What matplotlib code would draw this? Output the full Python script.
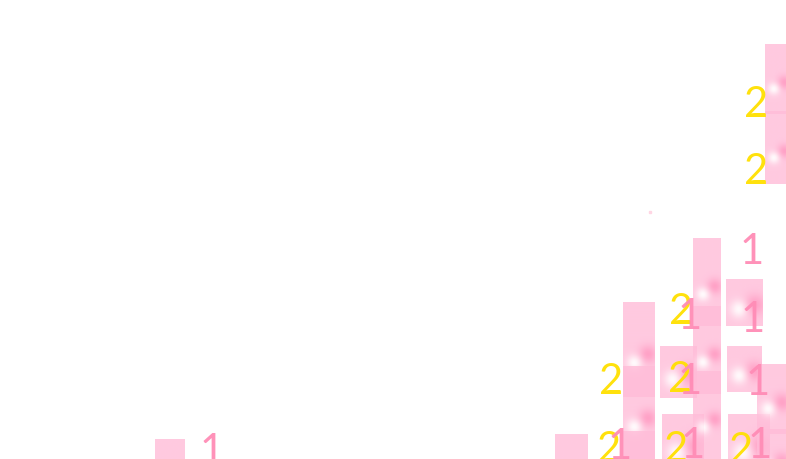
import numpy as np
import matplotlib
matplotlib.use("Agg")
from matplotlib import pyplot as plt

# tiles: left edge, top edge, width, height (pixel-like units of the canvas)
tile_x = [155, 555, 623, 623, 623, 660, 662, 693, 693, 693, 726, 727, 728, 765, 765, 757, 757]
tile_top = [440, 435, 303, 367, 432, 347, 415, 239, 307, 372, 280, 347, 415, 45, 112, 365, 430]
tile_w = [30, 33, 32, 32, 32, 37, 42, 28, 28, 28, 37, 35, 42, 25, 25, 32, 32]
tile_h = [95, 95, 95, 95, 95, 52, 60, 88, 88, 88, 47, 46, 60, 70, 73, 70, 60]

# labels drawn next to the tiles
label_text = ["1", "2", "2", "1", "1", "2", "2", "1", "2", "1", "1", "2", "1", "2", "1", "2", "1"]
label_x = [212, 756, 756, 752, 753, 611, 681, 690, 680, 690, 758, 609, 620, 676, 693, 741, 760]
label_y = [452, 105, 172, 252, 320, 382, 312, 317, 380, 382, 383, 450, 447, 450, 446, 451, 446]

PINK = "#ff8cb6"
YELLOW = "#ffe000"


def tile_image(n=64, aspect=1.0):
    yy, xx = np.mgrid[0:1:n*1j, 0:1:n*1j]
    # soft white highlight bottom-left, deeper pink to the right
    wx, wy = (xx - 0.36), (yy - 0.64) * aspect
    px, py = (xx - 0.78), (yy - 0.55) * aspect
    w = np.exp(-(wx**2 + wy**2) / (2 * 0.17**2))
    p = np.exp(-(px**2 + py**2) / (2 * 0.2**2))
    base = np.array([1.0, 0.74, 0.85])
    dark = np.array([1.0, 0.52, 0.71])
    white = np.array([1.0, 1.0, 1.0])
    img = np.empty((n, n, 4))
    img[..., :3] = base + (p * 0.9)[..., None] * (dark - base) + (w * 0.95)[..., None] * (white - base)
    img[..., 3] = 0.8
    return img


fig = plt.figure(figsize=(7.86, 4.60), dpi=100)
ax = fig.add_axes([0, 0, 1, 1])
ax.set_xlim(0, 786)
ax.set_ylim(460, 0)
ax.axis("off")

for x, t, w, h in zip(tile_x, tile_top, tile_w, tile_h):
    ax.imshow(tile_image(aspect=h / w), extent=(x, x + w, t + h, t),
              interpolation="bilinear", zorder=2)

for s, x, y in zip(label_text, label_x, label_y):
    ax.text(x, y, s, color=PINK if s == "1" else YELLOW, fontsize=30,
            family=["Lato", "DejaVu Sans"], fontweight="normal",
            ha="center", va="center", zorder=3, alpha=0.95)

ax.plot([650], [213], "s", color="#ffd6e4", markersize=1.5)

ax.set_xlim(0, 786)
ax.set_ylim(460, 0)
ax.set_aspect("auto")
fig.savefig("out.png", dpi=100)
